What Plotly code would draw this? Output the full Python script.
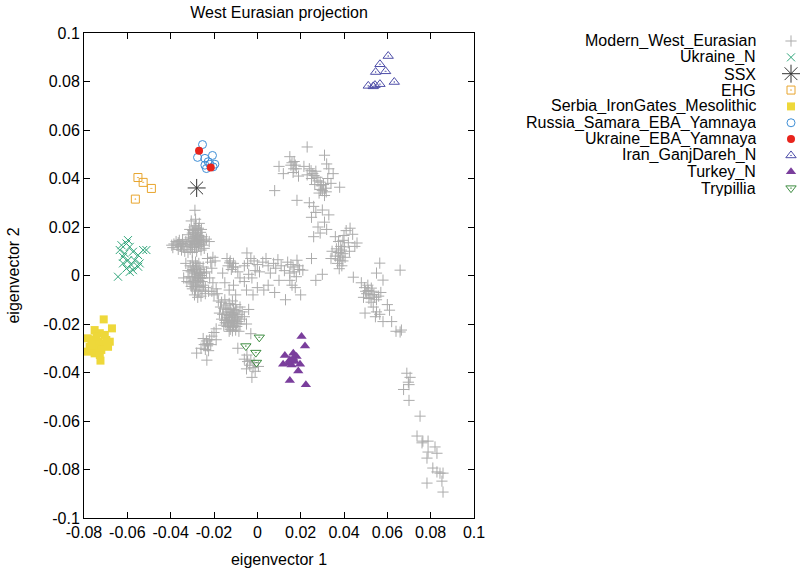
import plotly.graph_objects as go

# ---------------- data ----------------
modern_west_eurasian = [
    # left upper lump
    (-0.0288, 0.0269), (-0.0305, 0.0225), (-0.0285, 0.0232), (-0.0268, 0.0215), (-0.0292, 0.0200),
    (-0.0312, 0.0190), (-0.0278, 0.0185), (-0.0262, 0.0178), (-0.0300, 0.0175), (-0.0285, 0.0170),
    (-0.0270, 0.0165), (-0.0255, 0.0160), (-0.0295, 0.0160), (-0.0310, 0.0155), (-0.0280, 0.0150),
    (-0.0265, 0.0148), (-0.0248, 0.0145), (-0.0290, 0.0140), (-0.0275, 0.0135), (-0.0260, 0.0130),
    (-0.0300, 0.0128), (-0.0315, 0.0135), (-0.0330, 0.0140), (-0.0345, 0.0148), (-0.0360, 0.0145),
    (-0.0375, 0.0140), (-0.0385, 0.0130), (-0.0370, 0.0125), (-0.0355, 0.0120), (-0.0340, 0.0118),
    (-0.0325, 0.0122), (-0.0390, 0.0115), (-0.0365, 0.0108), (-0.0350, 0.0105), (-0.0335, 0.0100),
    (-0.0310, 0.0108), (-0.0290, 0.0115), (-0.0270, 0.0120), (-0.0250, 0.0125), (-0.0235, 0.0150),
    (-0.0222, 0.0140), (-0.0280, 0.0100), (-0.0300, 0.0095), (-0.0260, 0.0105), (-0.0245, 0.0112),
    (-0.0283, 0.0205), (-0.0272, 0.0195), (-0.0298, 0.0185), (-0.0318, 0.0168), (-0.0258, 0.0190),
    (-0.0305, 0.0145), (-0.0282, 0.0125), (-0.0395, 0.0125), (-0.0320, 0.0095), (-0.0345, 0.0132),
    (-0.0293, 0.0178), (-0.0276, 0.0158), (-0.0268, 0.0142), (-0.0288, 0.0132), (-0.0302, 0.0118),
    (-0.0287, 0.0192), (-0.0278, 0.0172), (-0.0263, 0.0155), (-0.0296, 0.0152), (-0.0283, 0.0142),
    (-0.0272, 0.0128), (-0.0257, 0.0137), (-0.0308, 0.0122), (-0.0352, 0.0128), (-0.0365, 0.0135),
    # left middle lump
    (-0.0300, 0.0060), (-0.0285, 0.0055), (-0.0270, 0.0050), (-0.0310, 0.0040), (-0.0295, 0.0035),
    (-0.0280, 0.0030), (-0.0265, 0.0025), (-0.0250, 0.0035), (-0.0320, 0.0020), (-0.0305, 0.0015),
    (-0.0290, 0.0010), (-0.0275, 0.0005), (-0.0260, 0.0000), (-0.0245, 0.0010), (-0.0315, -0.0005),
    (-0.0300, -0.0010), (-0.0285, -0.0015), (-0.0270, -0.0020), (-0.0255, -0.0025), (-0.0325, -0.0025),
    (-0.0310, -0.0030), (-0.0295, -0.0035), (-0.0280, -0.0040), (-0.0265, -0.0045), (-0.0300, -0.0055),
    (-0.0285, -0.0060), (-0.0270, -0.0065), (-0.0255, -0.0060), (-0.0240, -0.0050), (-0.0290, -0.0080),
    (-0.0275, -0.0090), (-0.0260, -0.0085), (-0.0240, -0.0075), (-0.0225, -0.0065), (-0.0230, 0.0070),
    (-0.0205, 0.0075), (-0.0215, 0.0055), (-0.0195, 0.0060), (-0.0210, 0.0030), (-0.0235, 0.0015),
    (-0.0220, -0.0010), (-0.0205, -0.0030), (-0.0190, -0.0055), (-0.0210, -0.0065), (-0.0200, -0.0080),
    (-0.0185, -0.0075), (-0.0330, 0.0050), (-0.0340, -0.0010), (-0.0288, 0.0022), (-0.0272, -0.0008),
    (-0.0293, -0.0022), (-0.0262, 0.0012), (-0.0278, 0.0040), (-0.0248, -0.0040), (-0.0305, -0.0045),
    (-0.0282, 0.0015), (-0.0268, 0.0008), (-0.0291, -0.0005), (-0.0277, -0.0028), (-0.0262, -0.0012),
    (-0.0298, 0.0025), (-0.0286, -0.0048), (-0.0252, -0.0010),
    # middle band
    (-0.0140, 0.0070), (-0.0125, 0.0060), (-0.0110, 0.0050), (-0.0135, 0.0040), (-0.0120, 0.0025),
    (-0.0100, 0.0035), (-0.0090, 0.0015), (-0.0048, 0.0093), (-0.0060, 0.0040), (-0.0045, 0.0050),
    (-0.0030, 0.0070), (-0.0015, 0.0060), (0.0000, 0.0045), (-0.0080, -0.0010), (-0.0060, -0.0025),
    (-0.0040, 0.0005), (-0.0025, -0.0010), (-0.0010, 0.0020), (0.0010, 0.0015), (0.0025, 0.0055),
    (0.0040, 0.0070), (0.0050, 0.0040), (0.0060, 0.0010), (0.0075, 0.0050), (0.0085, 0.0030),
    (0.0095, 0.0065), (0.0110, 0.0040), (0.0125, 0.0020), (0.0140, 0.0055), (0.0150, 0.0010),
    (0.0165, 0.0035), (0.0180, -0.0005), (0.0195, 0.0025), (0.0210, 0.0022), (0.0250, 0.0070),
    (0.0183, 0.0063), (0.0160, -0.0040), (0.0175, -0.0050), (0.0150, -0.0020), (0.0100, -0.0020),
    (0.0050, -0.0040), (0.0030, -0.0060), (0.0000, -0.0050), (-0.0020, -0.0080), (-0.0050, -0.0060),
    (-0.0110, -0.0040), (-0.0130, -0.0060), (-0.0100, -0.0080), (0.0080, -0.0070), (0.0200, -0.0080),
    (0.0270, -0.0020), (0.0300, 0.0005), (0.0130, -0.0100), (-0.0160, 0.0010), (-0.0150, -0.0030),
    (-0.0128, 0.0052), (-0.0115, 0.0035), (0.0170, 0.0015), (0.0188, 0.0040), (0.0155, 0.0045),
    # right arm, upper part
    (0.0230, 0.0530), (0.0150, 0.0490), (0.0170, 0.0470), (0.0155, 0.0455), (0.0180, 0.0440),
    (0.0165, 0.0425), (0.0190, 0.0410), (0.0100, 0.0450), (0.0120, 0.0420), (0.0080, 0.0350),
    (0.0215, 0.0450), (0.0240, 0.0440), (0.0256, 0.0420), (0.0230, 0.0415), (0.0270, 0.0430),
    (0.0250, 0.0400), (0.0280, 0.0390), (0.0265, 0.0375), (0.0295, 0.0370), (0.0300, 0.0350),
    (0.0285, 0.0340), (0.0315, 0.0360), (0.0310, 0.0496), (0.0320, 0.0460), (0.0330, 0.0440),
    (0.0350, 0.0420), (0.0325, 0.0400), (0.0340, 0.0380), (0.0380, 0.0364), (0.0310, 0.0330),
    (0.0183, 0.0310), (0.0240, 0.0300), (0.0260, 0.0285), (0.0270, 0.0260), (0.0250, 0.0240),
    (0.0300, 0.0270), (0.0330, 0.0250), (0.0310, 0.0220), (0.0280, 0.0200), (0.0290, 0.0175),
    (0.0320, 0.0190), (0.0260, 0.0160),
    (0.0248, 0.0432), (0.0262, 0.0412), (0.0275, 0.0405), (0.0290, 0.0385), (0.0305, 0.0375),
    (0.0292, 0.0355), (0.0318, 0.0345), (0.0160, 0.0465), (0.0175, 0.0455), (0.0168, 0.0440),
    # right arm, middle part
    (0.0428, 0.0195), (0.0410, 0.0185), (0.0440, 0.0170), (0.0400, 0.0165), (0.0360, 0.0160),
    (0.0375, 0.0140), (0.0395, 0.0145), (0.0420, 0.0135), (0.0460, 0.0134), (0.0450, 0.0120),
    (0.0385, 0.0120), (0.0365, 0.0110), (0.0345, 0.0100), (0.0375, 0.0095), (0.0395, 0.0090),
    (0.0360, 0.0080), (0.0380, 0.0063), (0.0395, 0.0060), (0.0370, 0.0050), (0.0390, 0.0040),
    (0.0405, 0.0075), (0.0425, 0.0100), (0.0340, 0.0070), (0.0443, -0.0007), (0.0565, 0.0051),
    (0.0659, 0.0022), (0.0580, -0.0019), (0.0550, 0.0010),
    (0.0383, 0.0080), (0.0372, 0.0068), (0.0388, 0.0105), (0.0402, 0.0118), (0.0378, 0.0028),
    # right arm, lower part
    (0.0480, -0.0030), (0.0495, -0.0050), (0.0510, -0.0040), (0.0520, -0.0080), (0.0505, -0.0075),
    (0.0530, -0.0065), (0.0540, -0.0090), (0.0515, -0.0095), (0.0490, -0.0090), (0.0550, -0.0100),
    (0.0525, -0.0110), (0.0560, -0.0085), (0.0570, -0.0070), (0.0497, -0.0155), (0.0535, -0.0130),
    (0.0550, -0.0150), (0.0545, -0.0170), (0.0580, -0.0190), (0.0610, -0.0143), (0.0620, -0.0190),
    (0.0600, -0.0120), (0.0565, -0.0160), (0.0659, -0.0233), (0.0640, -0.0230), (0.0665, -0.0225),
    (0.0512, -0.0062), (0.0526, -0.0052), (0.0500, -0.0065), (0.0538, -0.0078),
    # tail
    (0.0690, -0.0403), (0.0705, -0.0420), (0.0697, -0.0440), (0.0700, -0.0450), (0.0675, -0.0470),
    (0.0700, -0.0515), (0.0751, -0.0580), (0.0737, -0.0662), (0.0764, -0.0683), (0.0788, -0.0683),
    (0.0760, -0.0690), (0.0820, -0.0707), (0.0788, -0.0728), (0.0829, -0.0733), (0.0783, -0.0753),
    (0.0810, -0.0794), (0.0829, -0.0810), (0.0843, -0.0815), (0.0857, -0.0815), (0.0852, -0.0848),
    (0.0783, -0.0856), (0.0857, -0.0893),
    # central dense lump
    (-0.0180, -0.0105), (-0.0165, -0.0110), (-0.0150, -0.0100), (-0.0130, -0.0115), (-0.0115, -0.0105),
    (-0.0100, -0.0120), (-0.0170, -0.0130), (-0.0155, -0.0135), (-0.0140, -0.0140), (-0.0125, -0.0135),
    (-0.0110, -0.0140), (-0.0095, -0.0145), (-0.0080, -0.0130), (-0.0175, -0.0155), (-0.0160, -0.0160),
    (-0.0145, -0.0160), (-0.0130, -0.0165), (-0.0115, -0.0160), (-0.0100, -0.0170), (-0.0085, -0.0160),
    (-0.0070, -0.0150), (-0.0165, -0.0180), (-0.0150, -0.0185), (-0.0135, -0.0185), (-0.0120, -0.0190),
    (-0.0105, -0.0185), (-0.0090, -0.0190), (-0.0075, -0.0180), (-0.0060, -0.0170), (-0.0155, -0.0205),
    (-0.0140, -0.0210), (-0.0125, -0.0210), (-0.0110, -0.0205), (-0.0095, -0.0210), (-0.0080, -0.0200),
    (-0.0130, -0.0230), (-0.0115, -0.0228), (-0.0100, -0.0225), (-0.0085, -0.0230), (-0.0050, -0.0200),
    (-0.0040, -0.0140), (-0.0030, -0.0240), (-0.0190, -0.0220), (-0.0118, -0.0183), (-0.0128, -0.0175),
    (-0.0108, -0.0195), (-0.0138, -0.0195), (-0.0122, -0.0152), (-0.0145, -0.0122), (-0.0092, -0.0175),
    (-0.0132, -0.0200), (-0.0112, -0.0172), (-0.0098, -0.0198), (-0.0142, -0.0172), (-0.0125, -0.0222),
    (-0.0120, -0.0165), (-0.0135, -0.0150), (-0.0105, -0.0155), (-0.0115, -0.0215), (-0.0148, -0.0195),
    # small lump lower left
    (-0.0280, -0.0320), (-0.0233, -0.0349), (-0.0250, -0.0260), (-0.0235, -0.0270), (-0.0220, -0.0265),
    (-0.0245, -0.0285), (-0.0230, -0.0290), (-0.0215, -0.0285), (-0.0240, -0.0305), (-0.0225, -0.0310),
    (-0.0210, -0.0250), (-0.0200, -0.0235), (-0.0190, -0.0265), (-0.0260, -0.0300), (-0.0228, -0.0280),
    # lump near Trypillia
    (-0.0090, -0.0300), (-0.0048, -0.0328), (-0.0060, -0.0345), (-0.0045, -0.0355), (-0.0030, -0.0350),
    (-0.0015, -0.0360), (-0.0035, -0.0370), (-0.0020, -0.0380), (-0.0025, -0.0420), (0.0005, -0.0375),
    (-0.0050, -0.0385), (-0.0010, -0.0395),
]

ukraine_n = [
    (-0.0597, 0.0146), (-0.0604, 0.0132), (-0.0589, 0.0118), (-0.0627, 0.0125), (-0.0635, 0.0105),
    (-0.0574, 0.0098), (-0.0527, 0.0105), (-0.0550, 0.0084), (-0.0620, 0.0077), (-0.0597, 0.0063),
    (-0.0566, 0.0063), (-0.0620, 0.0050), (-0.0581, 0.0043), (-0.0550, 0.0036), (-0.0604, 0.0029),
    (-0.0574, 0.0022), (-0.0643, -0.0005), (-0.0589, 0.0015), (-0.0612, 0.0091), (-0.0543, 0.0050),
    (-0.0512, 0.0105),
]

ssx = [(-0.0280, 0.0361)]

ehg = [(-0.0551, 0.0404), (-0.0527, 0.0384), (-0.0489, 0.0359), (-0.0563, 0.0315)]

serbia_irongates_mesolithic = [
    (-0.0709, -0.0181), (-0.0671, -0.0218), (-0.0751, -0.0225), (-0.0727, -0.0238), (-0.0704, -0.0245),
    (-0.0782, -0.0259), (-0.0758, -0.0266), (-0.0735, -0.0273), (-0.0712, -0.0280), (-0.0681, -0.0273),
    (-0.0774, -0.0294), (-0.0743, -0.0300), (-0.0720, -0.0307), (-0.0689, -0.0294), (-0.0782, -0.0314),
    (-0.0751, -0.0321), (-0.0727, -0.0328), (-0.0724, -0.0351), (-0.0766, -0.0287), (-0.0697, -0.0266),
    (-0.0743, -0.0252),
]

russia_samara_eba_yamnaya = [
    (-0.0253, 0.0540), (-0.0276, 0.0487), (-0.0242, 0.0483), (-0.0207, 0.0495), (-0.0227, 0.0469),
    (-0.0204, 0.0448), (-0.0235, 0.0441), (-0.0242, 0.0455), (-0.0219, 0.0459), (-0.0196, 0.0459),
]

ukraine_eba_yamnaya = [(-0.0269, 0.0514), (-0.0215, 0.0445)]

iran_ganjdareh_n = [
    (0.0604, 0.0905), (0.0566, 0.0871), (0.0546, 0.0839), (0.0592, 0.0842), (0.0632, 0.0798),
    (0.0512, 0.0782), (0.0543, 0.0785), (0.0566, 0.0789), (0.0535, 0.0780),
]

turkey_n = [
    (0.0204, -0.0252), (0.0220, -0.0291), (0.0127, -0.0330), (0.0166, -0.0321), (0.0181, -0.0334),
    (0.0150, -0.0348), (0.0173, -0.0355), (0.0197, -0.0366), (0.0119, -0.0366), (0.0158, -0.0369),
    (0.0189, -0.0394), (0.0150, -0.0433), (0.0224, -0.0451), (0.0142, -0.0362), (0.0166, -0.0341),
]

trypillia = [(0.0009, -0.0255), (-0.0053, -0.0291), (-0.0007, -0.0318), (-0.0004, -0.0359)]

x_tick_vals = [-0.08, -0.06, -0.04, -0.02, 0, 0.02, 0.04, 0.06, 0.08, 0.1]
x_tick_text = ["-0.08", "-0.06", "-0.04", "-0.02", "0", "0.02", "0.04", "0.06", "0.08", "0.1"]
y_tick_vals = [-0.1, -0.08, -0.06, -0.04, -0.02, 0, 0.02, 0.04, 0.06, 0.08, 0.1]
y_tick_text = ["-0.1", "-0.08", "-0.06", "-0.04", "-0.02", "0", "0.02", "0.04", "0.06", "0.08", "0.1"]

# ---------------- styles ----------------
series = [
    ("Modern_West_Eurasian", modern_west_eurasian, dict(symbol="cross-thin-open", size=8, color="#ababab", line=dict(width=1, color="#ababab"))),
    ("Ukraine_N", ukraine_n, dict(symbol="x-thin-open", size=8, color="#2fa57a", line=dict(width=1, color="#2fa57a"))),
    ("SSX", ssx, dict(symbol="asterisk-open", size=15, color="#333333", line=dict(width=1, color="#333333"))),
    ("EHG", ehg, dict(symbol="square-open-dot", size=8, color="#e8a52e", line=dict(width=1, color="#e8a52e"))),
    ("Serbia_IronGates_Mesolithic", serbia_irongates_mesolithic, dict(symbol="square", size=8, color="#eed83a", line=dict(width=0))),
    ("Russia_Samara_EBA_Yamnaya", russia_samara_eba_yamnaya, dict(symbol="circle-open", size=8, color="#3f8fd6", line=dict(width=1, color="#3f8fd6"))),
    ("Ukraine_EBA_Yamnaya", ukraine_eba_yamnaya, dict(symbol="circle", size=8, color="#e8241c", line=dict(width=0))),
    ("Iran_GanjDareh_N", iran_ganjdareh_n, dict(symbol="triangle-up-open-dot", size=9, color="#4d4da8", line=dict(width=1, color="#4d4da8"))),
    ("Turkey_N", turkey_n, dict(symbol="triangle-up", size=9, color="#7a3e9c", line=dict(width=0))),
    ("Trypillia", trypillia, dict(symbol="triangle-down-open-dot", size=9, color="#3d8c40", line=dict(width=1, color="#3d8c40"))),
]

W, H = 800, 570
plot_left, plot_right, plot_top, plot_bottom = 84, 474, 33, 518
FONT = "Liberation Sans, Arial, Helvetica, sans-serif"

fig = go.Figure()
for name, pts, mk in series:
    fig.add_trace(go.Scatter(
        x=[p[0] for p in pts], y=[p[1] for p in pts], mode="markers", name=name,
        marker=mk, showlegend=False, hoverinfo="skip", cliponaxis=False,
    ))

# gnuplot-style key on the right: text right-aligned, symbol to its right
key_x_text, key_x_sym, key_y0, key_dy = 757, 791, 41, 16.35
for i, (name, pts, mk) in enumerate(series):
    ky = key_y0 + i * key_dy
    fig.add_trace(go.Scatter(
        x=[key_x_sym], y=[ky], mode="markers", marker=mk, xaxis="x2", yaxis="y2",
        showlegend=False, hoverinfo="skip", cliponaxis=False,
    ))
    fig.add_annotation(x=key_x_text, y=ky, xref="x2", yref="y2", text=name, showarrow=False,
                       xanchor="right", yanchor="middle", height=16, valign="middle", borderpad=0,
                       font=dict(size=16, color="black", family=FONT))

axis_common = dict(
    showline=True, linecolor="black", linewidth=1, mirror="allticks",
    ticks="inside", ticklen=6, tickcolor="black", tickwidth=1, automargin=False,
    showgrid=False, zeroline=False, tickfont=dict(size=16, color="black", family=FONT),
)

fig.update_layout(
    width=W, height=H,
    margin=dict(l=0, r=0, t=0, b=0, autoexpand=False),
    paper_bgcolor="white", plot_bgcolor="white",
    font=dict(family=FONT, size=16, color="black"),
    title=dict(text="West Eurasian projection", x=(plot_left + plot_right) / 2 / W, xanchor="center",
               y=1 - 12 / H, yanchor="middle", yref="container", automargin=False,
               pad=dict(t=0, b=0, l=0, r=0), font=dict(size=16, family=FONT)),
    xaxis=dict(domain=[plot_left / W, plot_right / W], range=[-0.08, 0.1],
               tickvals=x_tick_vals, ticktext=x_tick_text, anchor="y",
               title=dict(text="eigenvector 1", standoff=13, font=dict(size=16)), **axis_common),
    yaxis=dict(domain=[1 - plot_bottom / H, 1 - plot_top / H], range=[-0.1, 0.1],
               tickvals=y_tick_vals, ticktext=y_tick_text, anchor="x",
               title=dict(text="eigenvector 2", standoff=19, font=dict(size=16)), **axis_common),
    xaxis2=dict(domain=[480 / W, 1], range=[480, 800], visible=False, anchor="y2"),
    yaxis2=dict(domain=[0, 1], range=[570, 0], visible=False, anchor="x2"),
)

fig.write_html("out.html", config={"displayModeBar": False},
               post_script="document.body.style.margin='0';document.body.style.overflow='hidden';")
